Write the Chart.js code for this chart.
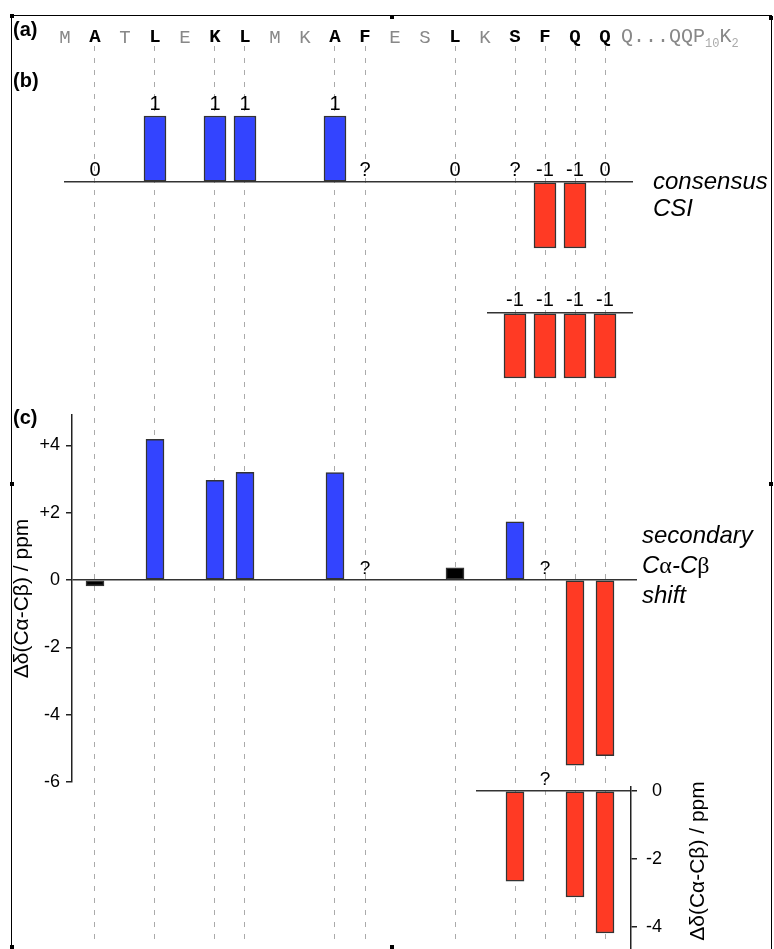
<!DOCTYPE html>
<html>
<head>
<meta charset="utf-8">
<script src="https://cdn.jsdelivr.net/npm/chart.js@4.4.0/dist/chart.umd.min.js"></script>
<style>
  body { margin: 0; background: #fff; }
  #fig { position: relative; width: 774px; height: 949px; overflow: hidden;
         font-family: "Liberation Sans", Arial, sans-serif; }
  #fig canvas { position: absolute; }
  .txt { position: absolute; white-space: nowrap; color: #000; }
  .panel { font-weight: bold; font-size: 20px; line-height: 20px; }
  .note { font-style: italic; font-size: 24px; }
  .g { font-family: "Liberation Serif", serif; font-style: normal; }
  .tail { font-family: "Liberation Mono", monospace; font-size: 20px; line-height: 20px; color: #888; }
  .tail sub { font-size: 12px; color: #aaa; }
  .frame { position: absolute; left: 11px; top: 15px; width: 759px; height: 960px; border: 1px solid #000; }
  .hd { position: absolute; width: 4px; height: 4px; background: #000; }
</style>
</head>
<body>
<div id="fig">
  <div class="frame"></div>
  <div class="hd" style="left:10px;top:14px"></div>
  <div class="hd" style="left:390px;top:15px"></div>
  <div class="hd" style="left:769px;top:16px"></div>
  <div class="hd" style="left:10px;top:482px"></div>
  <div class="hd" style="left:769px;top:482px"></div>
  <div class="hd" style="left:10px;top:945px"></div>
  <div class="hd" style="left:390px;top:945px"></div>

  <canvas id="bg" width="774" height="949" style="left:0;top:0"></canvas>
  <canvas id="csi1" width="569" height="170" style="left:64px;top:86px"></canvas>
  <canvas id="csi2" width="146" height="100" style="left:487px;top:280px"></canvas>
  <canvas id="shift1" width="640" height="400" style="left:0;top:400px"></canvas>
  <canvas id="shift2" width="186" height="194" style="left:476px;top:755px"></canvas>

  <div class="txt panel" style="left:13px;top:19px">(a)</div>
  <div class="txt panel" style="left:13px;top:70px">(b)</div>
  <div class="txt panel" style="left:13px;top:407px">(c)</div>
  <div class="txt tail" style="left:621px;top:27px">Q...QQP<sub>10</sub>K<sub>2</sub></div>
  <div class="txt note" style="left:653px;top:167px;line-height:27px">consensus<br>CSI</div>
  <div class="txt note" style="left:642px;top:520px;line-height:29.5px">secondary<br>C<span class="g">α</span>-C<span class="g">β</span><br>shift</div>
  <div class="txt" style="left:597px;top:849px;width:200px;text-align:center;font-size:21px;line-height:24px;transform:rotate(-90deg)">&Delta;&delta;(C&alpha;-C&beta;) / ppm</div>
</div>

<script>
// sequence shown along the top, and the residues that carry a guide line
const residues = ['M', 'A', 'T', 'L', 'E', 'K', 'L', 'M', 'K', 'A', 'F', 'E', 'S', 'L', 'K', 'S', 'F', 'Q', 'Q'];
const probed = [1, 3, 5, 6, 9, 10, 13, 15, 16, 17, 18];

// (b) consensus CSI, upper row (one value per probed residue, null = "?")
const csiValues = [0, 1, 1, 1, 1, null, 0, null, -1, -1, 0];
const csiLabels = ['0', '1', '1', '1', '1', '?', '0', '?', '-1', '-1', '0'];

// (b) consensus CSI, lower row
const csi2Pos = [15, 16, 17, 18];
const csi2Values = [-1, -1, -1, -1];
const csi2Labels = ['-1', '-1', '-1', '-1'];

// (c) secondary Ca-Cb shift / ppm
const shiftValues = [-0.18, 4.18, 2.96, 3.2, 3.19, null, 0.36, 1.73, null, -5.5, -5.22];
const shiftLabels = ['', '', '', '', '', '?', '', '', '?', '', ''];
const shiftTicks = [4, 2, 0, -2, -4, -6];

// (c) lower inset
const shift2Pos = [15, 16, 17, 18];
const shift2Values = [-2.65, null, -3.12, -4.18];
const shift2Labels = ['', '?', '', ''];
const shift2Ticks = [0, -2, -4];

const BLUE = '#3344ff';
const RED = '#ff3a24';
const X0 = 65, DX = 30; // pixel of residue 0 and spacing between residues
const xRange = (left, right) => ({ min: (left - X0) / DX, max: (right - X0) / DX });

Chart.defaults.font.family = '"Liberation Sans", Arial, sans-serif';
Chart.defaults.color = '#000';
Chart.defaults.animation = false;
Chart.defaults.plugins.legend.display = false;
Chart.defaults.plugins.tooltip.enabled = false;

const isProbed = c => !!(c && c.tick && probed.includes(c.tick.value));
const isZero = c => !!(c && c.tick && c.tick.value === 0);

function barColour(v) {
  if (v > 0.5) return BLUE;
  if (v < -0.5) return RED;
  return '#000';
}

// fixed axis width, and no extra room for half tick labels
const fixWidth = w => s => { s.width = w; s.paddingTop = 0; s.paddingBottom = 0; };

// writes the small numbers / question marks above each bar
function barLabels(texts, pos, values, size, gap) {
  return {
    id: 'barLabels',
    afterDatasetsDraw(chart) {
      const { ctx } = chart;
      const x = chart.scales.x, y = chart.scales.y;
      ctx.save();
      ctx.font = size + 'px "Liberation Sans", Arial, sans-serif';
      ctx.fillStyle = '#000';
      ctx.textAlign = 'center';
      ctx.textBaseline = 'alphabetic';
      texts.forEach((t, i) => {
        if (!t) return;
        const v = values[i] == null ? 0 : values[i];
        const py = Math.min(y.getPixelForValue(v), y.getPixelForValue(0));
        ctx.fillText(t, x.getPixelForValue(pos[i]), py - gap);
      });
      ctx.restore();
    }
  };
}

// background: residue letters + dashed guide lines
new Chart(document.getElementById('bg'), {
  type: 'bar',
  data: { datasets: [] },
  options: {
    responsive: false,
    layout: { padding: { top: 0, left: 0, right: 0, bottom: 9 } },
    scales: {
      x: {
        type: 'linear',
        position: 'top',
        offset: false,
        ...xRange(0, 774),
        afterBuildTicks: s => { s.ticks = residues.map((r, i) => ({ value: i })); },
        afterFit: s => { s.height = 46; },
        ticks: {
          autoSkip: false, maxRotation: 0, minRotation: 0, padding: -3,
          callback: v => residues[v],
          font: c => ({ family: '"Liberation Mono", monospace', size: 19,
                        weight: isProbed(c) ? 'bold' : 'normal' }),
          color: c => isProbed(c) ? '#000' : '#888'
        },
        grid: {
          offset: false, drawTicks: false, lineWidth: 1,
          color: c => isProbed(c) ? '#aaa' : 'rgba(0,0,0,0)'
        },
        border: { display: false, dash: [5, 7] }
      },
      y: { display: false }
    }
  }
});

function barPanel(id, cfg) {
  return new Chart(document.getElementById(id), {
    type: 'bar',
    data: {
      datasets: [{
        data: cfg.pos.map((p, i) => ({ x: p, y: cfg.values[i] })),
        backgroundColor: cfg.values.map(barColour),
        borderColor: '#333',
        borderWidth: 1.5,
        borderSkipped: false,
        barThickness: cfg.thick,
        clip: false
      }]
    },
    options: {
      responsive: false,
      layout: { padding: cfg.pad },
      scales: {
        x: { type: 'linear', display: false, offset: false, grid: { offset: false },
             ...xRange(cfg.left, cfg.right) },
        y: cfg.y
      }
    },
    plugins: [barLabels(cfg.labels, cfg.pos, cfg.values, cfg.labelSize, cfg.gap)]
  });
}

// y axis that only shows the zero line (panel b)
function zeroOnly(min, max) {
  return {
    min, max,
    afterBuildTicks: s => { s.ticks = [{ value: 0 }]; },
    afterFit: fixWidth(0),
    ticks: { display: false },
    grid: { drawTicks: false, color: '#333', lineWidth: 1.5 },
    border: { display: false }
  };
}

barPanel('csi1', {
  pos: probed, values: csiValues, labels: csiLabels,
  left: 64, right: 633, thick: 22, labelSize: 20, gap: 6,
  pad: { top: 30, bottom: 8, left: 0, right: 0 },
  y: zeroOnly(-1, 1)
});

barPanel('csi2', {
  pos: csi2Pos, values: csi2Values, labels: csi2Labels,
  left: 487, right: 633, thick: 22, labelSize: 20, gap: 7,
  pad: { top: 20, bottom: 2, left: 0, right: 0 },
  y: zeroOnly(-1, 0.2)
});

barPanel('shift1', {
  pos: probed, values: shiftValues, labels: shiftLabels,
  left: 72, right: 637, thick: 18, labelSize: 19, gap: 6,
  pad: { top: 15, bottom: 18, left: 0, right: 3 },
  y: {
    min: -6, max: 4.9,
    afterBuildTicks: s => { s.ticks = shiftTicks.map(v => ({ value: v })); },
    afterFit: fixWidth(72),
    ticks: { padding: 6, font: { size: 18 }, callback: v => (v > 0 ? '+' + v : String(v)) },
    grid: {
      tickLength: 6, tickWidth: 1.5, tickColor: '#222', lineWidth: 1.5,
      color: c => isZero(c) ? '#333' : 'rgba(0,0,0,0)'
    },
    border: { color: '#222', width: 1.5 },
    title: { display: true, text: 'Δδ(Cα-Cβ) / ppm', font: { size: 21 }, padding: { top: 10, bottom: 0 } }
  }
});

barPanel('shift2', {
  pos: shift2Pos, values: shift2Values, labels: shift2Labels,
  left: 476, right: 631, thick: 18, labelSize: 19, gap: 6,
  pad: { top: 32, bottom: 0, left: 0, right: 0 },
  y: {
    position: 'right',
    min: -4.65, max: 0.12,
    afterBuildTicks: s => { s.ticks = shift2Ticks.map(v => ({ value: v })); },
    afterFit: fixWidth(31),
    ticks: { padding: 6, crossAlign: 'far', font: { size: 18 } },
    grid: {
      tickLength: 6, tickWidth: 1.5, tickColor: '#222', lineWidth: 1.5,
      color: c => isZero(c) ? '#333' : 'rgba(0,0,0,0)'
    },
    border: { color: '#222', width: 1.5 }
  }
});
</script>
</body>
</html>
